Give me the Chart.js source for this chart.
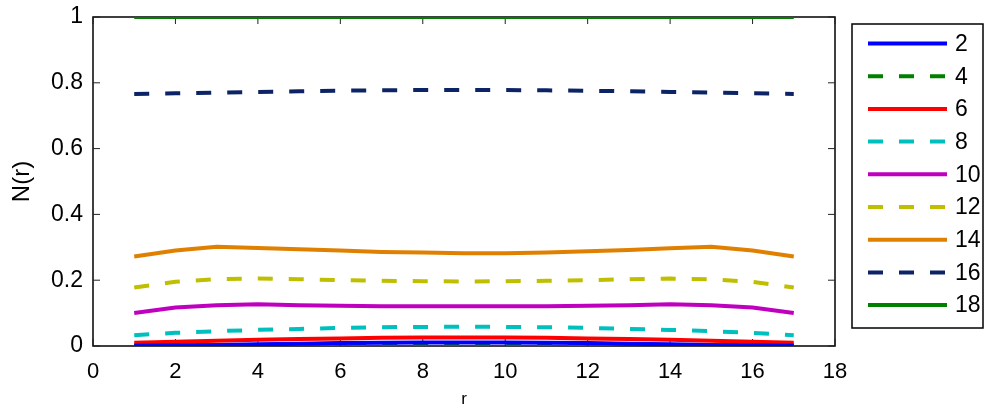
<!DOCTYPE html>
<html>
<head>
<meta charset="utf-8">
<script src="https://cdn.jsdelivr.net/npm/chart.js@4.4.0/dist/chart.umd.min.js"></script>
<style>
  body { margin: 0; background: #fff; }
</style>
</head>
<body>
<canvas id="c" width="986" height="406"></canvas>
<script>
// r positions
var rValues = [1, 2, 3, 4, 5, 6, 7, 8, 9, 10, 11, 12, 13, 14, 15, 16, 17];
var xTicks = [0, 2, 4, 6, 8, 10, 12, 14, 16, 18];
var yTicks = [0, 0.2, 0.4, 0.6, 0.8, 1];

var seriesNames = ['2', '4', '6', '8', '10', '12', '14', '16', '18'];

var n2  = [0.001, 0.002, 0.003, 0.005, 0.007, 0.009, 0.010, 0.011, 0.011, 0.011, 0.010, 0.009, 0.007, 0.005, 0.003, 0.002, 0.001];
var n4  = [0.002, 0.002, 0.002, 0.002, 0.002, 0.002, 0.002, 0.002, 0.002, 0.002, 0.002, 0.002, 0.002, 0.002, 0.002, 0.002, 0.002];
var n6  = [0.010, 0.013, 0.016, 0.019, 0.021, 0.023, 0.025, 0.026, 0.026, 0.026, 0.025, 0.023, 0.021, 0.019, 0.016, 0.013, 0.010];
var n8  = [0.033, 0.040, 0.045, 0.049, 0.052, 0.055, 0.057, 0.058, 0.059, 0.058, 0.057, 0.055, 0.052, 0.049, 0.045, 0.040, 0.033];
var n10 = [0.100, 0.117, 0.124, 0.127, 0.124, 0.122, 0.121, 0.121, 0.121, 0.121, 0.121, 0.122, 0.124, 0.127, 0.124, 0.117, 0.100];
var n12 = [0.178, 0.195, 0.203, 0.205, 0.203, 0.200, 0.198, 0.197, 0.196, 0.197, 0.198, 0.200, 0.203, 0.205, 0.203, 0.195, 0.178];
var n14 = [0.272, 0.290, 0.302, 0.298, 0.294, 0.290, 0.286, 0.284, 0.282, 0.282, 0.284, 0.288, 0.292, 0.297, 0.302, 0.290, 0.272];
var n16 = [0.766, 0.768, 0.770, 0.772, 0.774, 0.776, 0.777, 0.778, 0.778, 0.778, 0.777, 0.776, 0.774, 0.772, 0.770, 0.768, 0.766];
var n18 = [1, 1, 1, 1, 1, 1, 1, 1, 1, 1, 1, 1, 1, 1, 1, 1, 1];

var allSeries = [n2, n4, n6, n8, n10, n12, n14, n16, n18];
var colors = ['#0000ff', '#008000', '#ff0000', '#00bfbf', '#bf00bf', '#bfbf00', '#e08000', '#0c2466', '#008000'];
var dashed = [false, true, false, true, false, true, false, true, false];

var FONT = 'Liberation Sans, Arial, sans-serif';
var DASH = [15, 16];

var datasets = allSeries.map(function (vals, i) {
  return {
    label: seriesNames[i],
    data: vals.map(function (v, j) { return { x: rValues[j], y: v }; }),
    borderColor: colors[i],
    backgroundColor: colors[i],
    borderWidth: 4,
    borderDash: dashed[i] ? DASH : [],
    borderCapStyle: 'butt',
    pointRadius: 0,
    tension: 0,
    fill: false
  };
});

// box around plot area + inward ticks + matlab-style legend
var matlabFrame = {
  id: 'matlabFrame',
  beforeDatasetsDraw: function (chart) {
    var ctx = chart.ctx, a = chart.chartArea;
    var xs = chart.scales.x, ys = chart.scales.y;
    ctx.save();
    ctx.strokeStyle = '#000';
    ctx.lineWidth = 1.5;
    ctx.strokeRect(a.left, a.top, a.right - a.left, a.bottom - a.top);
    ctx.lineWidth = 1;
    ctx.strokeStyle = '#222';
    xTicks.forEach(function (t) {
      var px = xs.getPixelForValue(t);
      ctx.beginPath();
      ctx.moveTo(px, a.bottom); ctx.lineTo(px, a.bottom - 7);
      ctx.moveTo(px, a.top); ctx.lineTo(px, a.top + 7);
      ctx.stroke();
    });
    yTicks.forEach(function (t) {
      var py = ys.getPixelForValue(t);
      ctx.beginPath();
      ctx.moveTo(a.left, py); ctx.lineTo(a.left + 7, py);
      ctx.moveTo(a.right, py); ctx.lineTo(a.right - 7, py);
      ctx.stroke();
    });
    ctx.restore();
  },
  afterDraw: function (chart) {
    var ctx = chart.ctx;
    var bx = 852, by = 24, bw = 131, bh = 304;
    ctx.save();
    ctx.fillStyle = '#fff';
    ctx.fillRect(bx, by, bw, bh);
    ctx.strokeStyle = '#000';
    ctx.lineWidth = 1.5;
    ctx.strokeRect(bx, by, bw, bh);
    chart.data.datasets.forEach(function (ds, i) {
      var y = 43.5 + i * 32.7;
      ctx.beginPath();
      ctx.strokeStyle = ds.borderColor;
      ctx.lineWidth = 4;
      ctx.lineCap = 'butt';
      ctx.setLineDash(ds.borderDash || []);
      ctx.moveTo(868, y);
      ctx.lineTo(947, y);
      ctx.stroke();
      ctx.setLineDash([]);
      ctx.fillStyle = '#000';
      ctx.font = '23px ' + FONT;
      ctx.textBaseline = 'middle';
      ctx.textAlign = 'left';
      ctx.fillText(ds.label, 955, y + 1);
    });
    ctx.restore();
  }
};

new Chart(document.getElementById('c'), {
  type: 'line',
  data: { datasets: datasets },
  plugins: [matlabFrame],
  options: {
    responsive: false,
    devicePixelRatio: 1,
    animation: false,
    layout: { padding: { top: 17, right: 151, left: 0, bottom: 0 } },
    plugins: { legend: { display: false }, tooltip: { enabled: false } },
    scales: {
      x: {
        type: 'linear',
        min: 0,
        max: 18,
        afterFit: function (s) { s.height = 60; },
        afterBuildTicks: function (s) { s.ticks = xTicks.map(function (v) { return { value: v }; }); },
        grid: { display: false, drawTicks: false },
        border: { display: false },
        ticks: { color: '#000', font: { family: FONT, size: 22 }, padding: 13, maxRotation: 0,
                 callback: function (v) { return String(v); } },
        title: { display: true, text: 'r', color: '#000', font: { family: FONT, size: 17, lineHeight: 0.8 }, padding: { top: 0, bottom: 0 } }
      },
      y: {
        type: 'linear',
        min: 0,
        max: 1,
        afterFit: function (s) { s.width = 93; },
        afterBuildTicks: function (s) { s.ticks = yTicks.map(function (v) { return { value: v }; }); },
        grid: { display: false, drawTicks: false },
        border: { display: false },
        ticks: { color: '#000', font: { family: FONT, size: 23, lineHeight: 0.3 }, padding: 10,
                 callback: function (v) { return String(v); } },
        title: { display: true, text: 'N(r)', color: '#000', font: { family: FONT, size: 24 }, padding: { top: 8, bottom: 0 } }
      }
    }
  }
});
</script>
</body>
</html>
